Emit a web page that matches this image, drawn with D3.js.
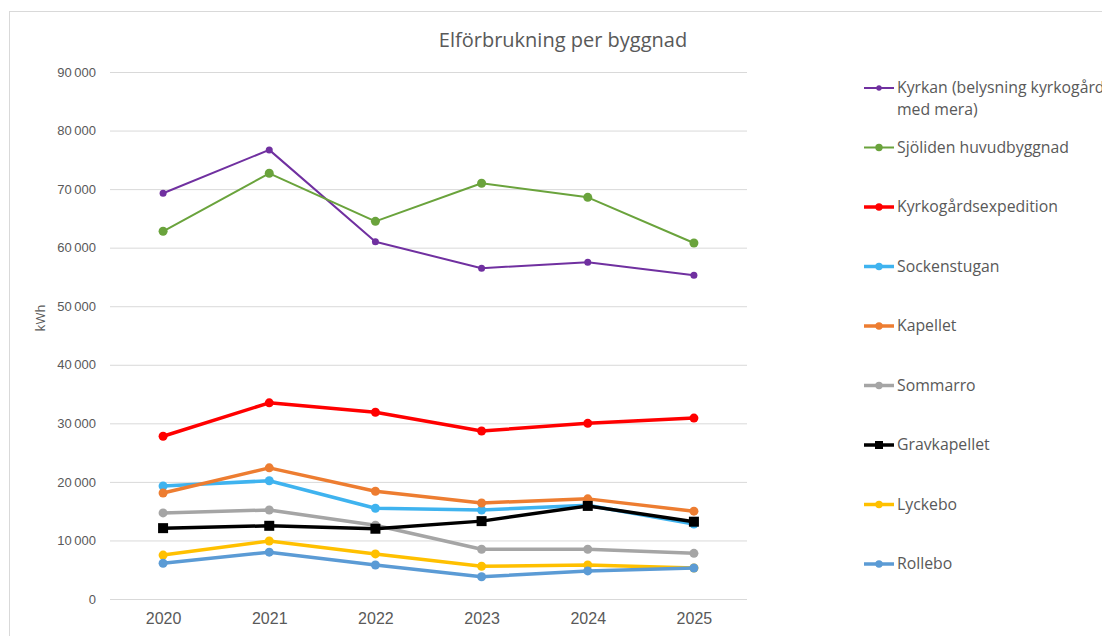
<!DOCTYPE html>
<html>
<head>
<meta charset="utf-8">
<script src="https://d3js.org/d3.v7.min.js"></script>
<style>
  body { margin: 0; background: #fff; overflow: hidden; }
  svg { font-family: "Open Sans", "Noto Sans", sans-serif; }
  .grid line { stroke: #d9d9d9; stroke-width: 1; }
  .tick text { fill: #595959; }
</style>
</head>
<body>
<svg id="chart" width="1102" height="636"></svg>
<script>
var years = ["2020", "2021", "2022", "2023", "2024", "2025"];
var yTicks = [0, 10000, 20000, 30000, 40000, 50000, 60000, 70000, 80000, 90000];

var names = ["Kyrkan (belysning kyrkogård|med mera)", "Sjöliden huvudbyggnad", "Kyrkogårdsexpedition",
             "Sockenstugan", "Kapellet", "Sommarro", "Gravkapellet", "Lyckebo", "Rollebo"];

var kyrkan      = [69300, 76700, 61000, 56500, 57500, 55300];
var sjoliden    = [62800, 72700, 64500, 71000, 68600, 60800];
var expedition  = [27800, 33500, 31900, 28700, 30000, 30900];
var sockenstugan= [19300, 20200, 15500, 15200, 16000, 12800];
var kapellet    = [18100, 22400, 18400, 16400, 17100, 15000];
var sommarro    = [14700, 15200, 12600, 8500, 8500, 7800];
var gravkapellet= [12100, 12500, 12000, 13300, 15900, 13200];
var lyckebo     = [7500, 9900, 7700, 5600, 5800, 5300];
var rollebo     = [6100, 8000, 5800, 3800, 4800, 5300];

var seriesValues = [kyrkan, sjoliden, expedition, sockenstugan, kapellet, sommarro, gravkapellet, lyckebo, rollebo];
var colors = ["#7030a0", "#6aa33c", "#ff0000", "#3fb3ef", "#ed7d31", "#a5a5a5", "#000000", "#ffc000", "#5b9bd5"];
var widths = [2, 2, 3.5, 3.5, 3.5, 3.5, 3.5, 3.5, 3.5];
var radii  = [3.5, 4.5, 4.5, 4.5, 4.5, 4.5, 5, 4.5, 4.5];

var svg = d3.select("#chart");

// outer chart frame
svg.append("rect")
  .attr("x", 9.5).attr("y", 11.5)
  .attr("width", 1200).attr("height", 700)
  .attr("fill", "none").attr("stroke", "#d9d9d9");

var plotLeft = 110, plotRight = 747, plotTop = 72, plotBottom = 599;

var x = d3.scalePoint().domain(years).range([plotLeft, plotRight]).padding(0.5);
var y = d3.scaleLinear().domain([0, 90000]).range([plotBottom, plotTop]);

var fmt = function(d) { return d3.format(",")(d).replace(/,/g, "\u2009"); };

// gridlines + y labels
var yAxis = svg.append("g").attr("class", "grid")
  .attr("transform", "translate(" + plotLeft + ",0)")
  .call(d3.axisLeft(y).tickValues(yTicks).tickSize(-(plotRight - plotLeft)).tickFormat(fmt));
yAxis.select(".domain").remove();
yAxis.selectAll(".tick text").attr("x", -14).style("font-size", "13px");

var xAxis = svg.append("g")
  .attr("transform", "translate(0," + plotBottom + ")")
  .call(d3.axisBottom(x).tickSize(0));
xAxis.select(".domain").remove();
xAxis.selectAll(".tick text").attr("dy", "1.35em").style("font-size", "16px").style("fill", "#595959");

// title and axis title
svg.append("text")
  .attr("x", 563).attr("y", 47)
  .attr("text-anchor", "middle")
  .style("font-size", "20px").style("fill", "#595959")
  .text("Elförbrukning per byggnad");

svg.append("text")
  .attr("transform", "translate(45,318) rotate(-90)")
  .attr("text-anchor", "middle")
  .style("font-size", "13px").style("fill", "#595959")
  .text("kWh");

var line = d3.line()
  .x(function(d, i) { return x(years[i]); })
  .y(function(d) { return y(d); });

seriesValues.forEach(function(vals, s) {
  var g = svg.append("g");
  g.append("path")
    .datum(vals)
    .attr("d", line)
    .attr("fill", "none")
    .attr("stroke", colors[s])
    .attr("stroke-width", widths[s])
    .attr("stroke-linejoin", "round");
  if (s == 6) {
    g.selectAll("rect").data(vals).enter().append("rect")
      .attr("x", function(d, i) { return x(years[i]) - radii[s]; })
      .attr("y", function(d) { return y(d) - radii[s]; })
      .attr("width", radii[s] * 2).attr("height", radii[s] * 2)
      .attr("fill", colors[s]);
  } else {
    g.selectAll("circle").data(vals).enter().append("circle")
      .attr("cx", function(d, i) { return x(years[i]); })
      .attr("cy", function(d) { return y(d); })
      .attr("r", radii[s])
      .attr("fill", colors[s]);
  }
});

// legend
var legY = d3.scaleLinear().domain([0, 8]).range([88, 564]);
names.forEach(function(name, s) {
  var ly = legY(s);
  var g = svg.append("g");
  g.append("line")
    .attr("x1", 864).attr("x2", 894).attr("y1", ly).attr("y2", ly)
    .attr("stroke", colors[s]).attr("stroke-width", widths[s]);
  if (s == 6) {
    g.append("rect").attr("x", 879 - 4).attr("y", ly - 4).attr("width", 8).attr("height", 8).attr("fill", colors[s]);
  } else {
    g.append("circle").attr("cx", 879).attr("cy", ly).attr("r", radii[s] - 0.8).attr("fill", colors[s]);
  }
  var t = g.append("text")
    .attr("x", 897).attr("y", ly + 5)
    .style("font-size", "15.8px").style("fill", "#595959");
  name.split("|").forEach(function(part, k) {
    t.append("tspan").attr("x", 897).attr("dy", k ? 22 : 0).text(part);
  });
});
</script>
</body>
</html>
